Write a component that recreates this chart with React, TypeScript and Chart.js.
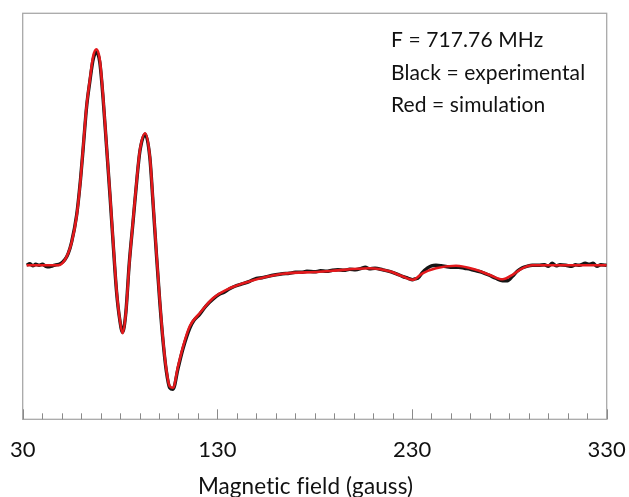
import { useEffect, useRef } from "react";
import { Chart, registerables } from "chart.js";

Chart.register(...registerables);

// Simulated EPR spectrum (red)
const simField = [
  32.0, 40.0, 48.1, 51.7, 55.1, 57.7, 59.7, 61.1, 62.8, 64.5, 66.2, 67.9, 69.6, 71.3, 73.1, 74.8,
  76.5, 78.2, 79.9, 81.3, 83.0, 84.7, 86.7, 88.8, 90.2, 92.9, 95.3, 97.0, 98.7, 100.4, 102.1,
  103.8, 105.5, 107.2, 109.8, 112.4, 115.8, 120.9, 127.7, 136.3, 146.6, 163.5, 182.5, 189.1,
  208.1, 218.4, 225.0, 230.3, 235.4, 242.3, 252.6, 262.8, 269.7, 276.5, 281.6, 286.7, 291.8,
  310.6, 330.0,
];
const simSignal = [
  0.0, 0.0, 0.0, 0.055, 0.225, 0.49, 0.855, 1.19, 1.59, 1.855, 2.09, 2.16, 2.055, 1.69, 1.19, 0.725,
  0.225, -0.245, -0.545, -0.68, -0.475, 0.0, 0.45, 0.9, 1.15, 1.32, 1.09, 0.625, 0.125, -0.345, -0.745,
  -1.045, -1.21, -1.225, -1.01, -0.81, -0.61, -0.48, -0.33, -0.23, -0.16, -0.085, -0.065, -0.055,
  -0.03, -0.06, -0.11, -0.145, -0.08, -0.03, -0.005, -0.045, -0.095, -0.14, -0.095, -0.03, 0.0,
  0.0, 0.0,
];

// Measured EPR spectrum (black)
const expField = [
  32.1, 33.6, 35.2, 36.7, 38.4, 40.1, 41.9, 43.6, 45.4, 47.0, 48.6, 50.4, 51.8, 53.4, 55.1, 57.7,
  59.7, 61.1, 62.8, 64.5, 66.2, 67.9, 69.6, 71.3, 73.1, 74.8, 76.5, 78.2, 79.9, 81.3, 83.0, 84.7,
  86.7, 88.8, 90.2, 92.9, 95.3, 97.0, 98.7, 100.4, 102.1, 103.8, 105.5, 107.2, 109.8, 112.4,
  115.8, 118.0, 120.9, 124.0, 127.7, 131.0, 133.5, 136.3, 139.0, 142.0, 146.6, 150.0, 153.0,
  156.0, 160.0, 163.5, 167.0, 170.0, 173.0, 176.0, 180.0, 183.0, 186.0, 189.1, 192.0, 195.0,
  198.0, 201.0, 204.0, 206.0, 208.1, 211.0, 215.0, 218.4, 222.0, 225.0, 228.0, 230.3, 231.5,
  233.0, 235.4, 238.0, 240.0, 242.3, 245.0, 248.0, 251.0, 254.0, 257.0, 260.0, 263.0, 266.0,
  269.7, 273.0, 276.5, 279.0, 281.6, 284.0, 286.7, 289.0, 291.8, 295.0, 298.0, 300.0, 302.0,
  304.0, 306.0, 309.0, 312.0, 314.0, 316.0, 319.0, 321.0, 323.0, 325.0, 327.0, 330.0,
];
const expSignal = [
  0.0, 0.015, -0.005, 0.01, 0.0, 0.01, -0.01, -0.015, -0.005, 0.005, 0.01, 0.03, 0.06, 0.12, 0.23, 0.5,
  0.86, 1.18, 1.58, 1.84, 2.06, 2.13, 2.03, 1.67, 1.18, 0.71, 0.21, -0.26, -0.55, -0.67, -0.47, 0.01,
  0.44, 0.89, 1.14, 1.31, 1.08, 0.61, 0.11, -0.36, -0.76, -1.06, -1.225, -1.24, -1.03, -0.83,
  -0.63, -0.55, -0.49, -0.41, -0.34, -0.29, -0.27, -0.235, -0.21, -0.19, -0.16, -0.13, -0.125,
  -0.11, -0.095, -0.085, -0.08, -0.07, -0.07, -0.06, -0.065, -0.055, -0.06, -0.05, -0.045, -0.05,
  -0.04, -0.045, -0.03, -0.02, -0.035, -0.03, -0.045, -0.06, -0.085, -0.11, -0.13, -0.145, -0.135,
  -0.13, -0.07, -0.025, -0.005, 0.0, -0.005, -0.015, -0.02, -0.02, -0.03, -0.04, -0.055, -0.07,
  -0.1, -0.13, -0.155, -0.155, -0.11, -0.06, -0.025, -0.01, 0.0, 0.0, 0.005, -0.01, 0.02,
  -0.005, 0.005, 0.0, -0.01, 0.005, 0.0, 0.02, 0.01, 0.02, -0.01, 0.005, 0.0,
];

const xTickLabels = [30, 130, 230, 330];
const xAxisTitle = "Magnetic field (gauss)";
const noteLines = ["F = 717.76 MHz", "Black = experimental", "Red = simulation"];

const FONT = "Lato, 'Open Sans', sans-serif";

const toPoints = (xs: number[], ys: number[]) => xs.map((x, i) => ({ x, y: ys[i] }));

const framePlugin = {
  id: "frameAndTicks",
  beforeDatasetsDraw(chart: any) {
    const { ctx, chartArea, scales } = chart;
    const { left, right, top, bottom } = chartArea;
    const x = scales.x;
    ctx.save();
    ctx.strokeStyle = "#a8a8a8";
    ctx.lineWidth = 1.3;
    ctx.strokeRect(left, top, right - left, bottom - top);
    ctx.strokeStyle = "#8a8a8a";
    ctx.lineWidth = 1;
    for (let v = x.min; v <= x.max; v += 10) {
      const px = Math.round(x.getPixelForValue(v)) + 0.5;
      const len = xTickLabels.includes(v) ? 10 : 6;
      ctx.beginPath();
      ctx.moveTo(px, bottom);
      ctx.lineTo(px, bottom - len);
      ctx.stroke();
    }
    ctx.restore();
  },
  afterDraw(chart: any) {
    const { ctx } = chart;
    ctx.save();
    ctx.fillStyle = "#111";
    ctx.textAlign = "left";
    ctx.textBaseline = "alphabetic";
    // a tiny letter spacing keeps "fi" as two separate glyphs
    ctx.letterSpacing = "0.1px";
    ctx.font = `21px ${FONT}`;
    const baselines = [47, 79.5, 112];
    noteLines.forEach((t, i) => ctx.fillText(t, 391, baselines[i]));
    ctx.font = `22.5px ${FONT}`;
    ctx.textAlign = "center";
    ctx.fillText(xAxisTitle, 305.5, 494);
    ctx.restore();
  },
};

export default function App() {
  const ref = useRef<HTMLCanvasElement>(null);

  useEffect(() => {
    if (!ref.current) return;
    const chart = new Chart(ref.current, {
      type: "line",
      data: {
        datasets: [
          {
            label: "simulation",
            data: toPoints(simField, simSignal),
            borderColor: "#e3191c",
            borderWidth: 2.6,
            pointRadius: 0,
            cubicInterpolationMode: "monotone",
            order: 0,
          },
          {
            label: "experimental",
            data: toPoints(expField, expSignal),
            borderColor: "#151515",
            borderWidth: 3.4,
            pointRadius: 0,
            cubicInterpolationMode: "monotone",
            order: 1,
          },
        ],
      },
      options: {
        responsive: false,
        animation: false,
        devicePixelRatio: 1,
        layout: { padding: { left: 22.7, right: 22.3, top: 13.3, bottom: 0 } },
        plugins: { legend: { display: false }, tooltip: { enabled: false } },
        scales: {
          x: {
            type: "linear",
            min: 30,
            max: 330,
            afterBuildTicks: (scale: any) => {
              scale.ticks = xTickLabels.map((value) => ({ value }));
            },
            afterFit: (scale: any) => {
              scale.height = 77.7;
              scale.paddingLeft = 0;
              scale.paddingRight = 0;
            },
            grid: { display: false, drawTicks: false },
            border: { display: false },
            ticks: {
              font: { family: FONT, size: 22 },
              color: "#111",
              padding: 17.5,
              maxRotation: 0,
              autoSkip: false,
            },
          },
          y: {
            display: false,
            min: -1.54,
            max: 2.52,
          },
        },
      },
      plugins: [framePlugin],
    });
    return () => chart.destroy();
  }, []);

  return (
    <div style={{ position: "absolute", left: 0, top: 0, width: 629, height: 497, background: "#fff" }}>
      <canvas ref={ref} width={629} height={497} style={{ display: "block", width: 629, height: 497 }} />
    </div>
  );
}
